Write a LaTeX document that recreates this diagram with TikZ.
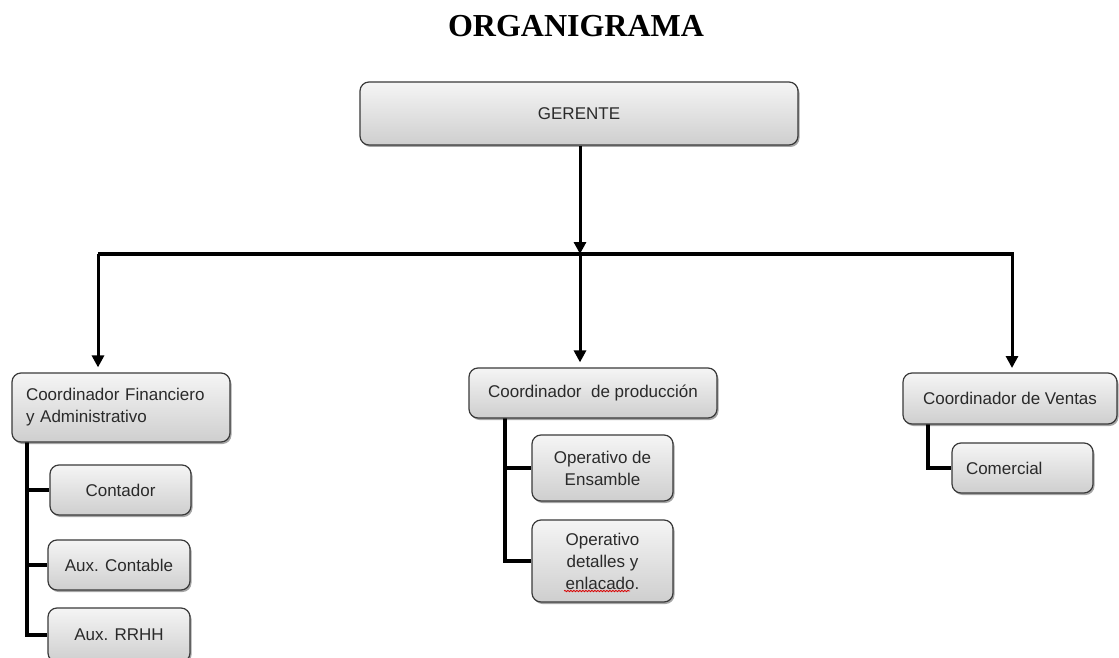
\documentclass[tikz,border=0pt]{standalone}
\usepackage{fontspec}
\setmainfont{Liberation Sans}
\newfontfamily\titlefont{Liberation Serif}
\usetikzlibrary{arrows.meta,shadows,shadings,backgrounds,decorations.pathmorphing}
\definecolor{boxline}{HTML}{3A3A3A}
\definecolor{txt}{HTML}{2A2A2A}
\tikzset{
  orgbox/.style={draw=boxline, line width=1.2pt, rounded corners=9pt,
    top color=gray!8, bottom color=gray!38, inner sep=0pt,
    drop shadow={shadow xshift=1.5pt, shadow yshift=-2pt, opacity=0.35, fill=black},
    font=\fontsize{17}{22}\selectfont, text=txt, align=center},
  busline/.style={line width=4pt, black},
  arr/.style={line width=3pt, black, -{Triangle[length=12pt,width=12pt]}},
  treeline/.style={line width=4pt, black, line join=miter},
}
\begin{document}
\begin{tikzpicture}[x=1pt,y=-1pt]
\clip (0,0) rectangle (1119,658);

\node[anchor=base, font=\titlefont\bfseries\fontsize{32}{36}\selectfont] (title) at (576,37) {ORGANIGRAMA};

\node[orgbox, minimum width=438pt, minimum height=63pt] (ger) at (579,113.5) {GERENTE};

\node[orgbox, minimum width=218pt, minimum height=69pt, text width=190pt, align=left] (cfa) at (121,407.5) {Coordinador Financiero\\y Administrativo};
\node[orgbox, minimum width=248pt, minimum height=50pt] (cpr) at (593,393) {Coordinador \ de producción};
\node[orgbox, minimum width=214pt, minimum height=51pt] (cve) at (1010,398.5) {Coordinador de Ventas};

\node[orgbox, minimum width=141pt, minimum height=50pt] (con) at (120.5,490) {Contador};
\node[orgbox, minimum width=142pt, minimum height=50pt] (auxc) at (119,565) {Aux. Contable};
\node[orgbox, minimum width=142pt, minimum height=54pt] (auxr) at (119,635) {Aux. RRHH};

\node[orgbox, minimum width=141pt, minimum height=66pt] (ens) at (602.5,468) {Operativo de\\Ensamble};
\node[orgbox, minimum width=141pt, minimum height=82pt] (det) at (602.5,561) {Operativo\\detalles y\\enlacado.};
\draw[red!85!black, line width=0.8pt, decorate, decoration={snake, amplitude=0.7pt, segment length=3pt}] (564,591) -- (630,591);

\node[orgbox, minimum width=141pt, minimum height=50pt, text width=113pt, align=left] (com) at (1022.5,468) {Comercial};

\begin{scope}[on background layer]
  \fill[white] (0,0) rectangle (1119,658);
  \coordinate (busL) at (98,254);
  \coordinate (busM) at (580,254);
  \coordinate (busR) at (1014,254);
  \draw[busline] (busL) -- (busR);
  \draw[arr] (ger.south -| busM) -- (busM);
  \draw[arr, shorten >=5pt] (busL) -- (busL |- cfa.north);
  \draw[arr, shorten >=5pt] (busM) -- (busM |- cpr.north);
  \draw[arr, shorten >=5pt] (1012,254) -- (1012,373);

  \coordinate (lt) at (27,440);
  \draw[treeline] (lt) |- (auxr.west);
  \draw[treeline] (lt |- con.west) -- (con.west);
  \draw[treeline] (lt |- auxc.west) -- (auxc.west);

  \coordinate (mt) at (505,416);
  \draw[treeline] (mt) |- (det.west);
  \draw[treeline] (mt |- ens.west) -- (ens.west);

  \coordinate (rt) at (928,422);
  \draw[treeline] (rt) |- (com.west);
\end{scope}
\end{tikzpicture}
\end{document}
